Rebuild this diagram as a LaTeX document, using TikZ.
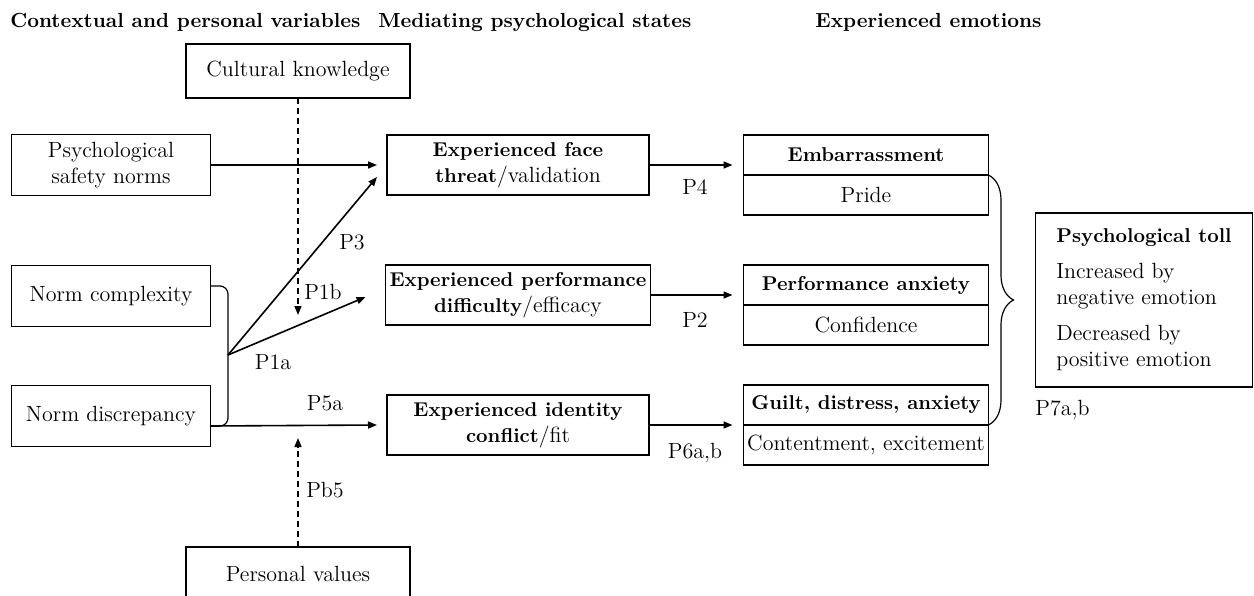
\documentclass[tikz,border=0pt]{standalone}
\usepackage{tikz}
\usetikzlibrary{arrows.meta,calc,positioning,decorations.pathreplacing}

\newcommand{\strong}[1]{{\fontsize{10}{13}\selectfont\bfseries #1}}

\tikzset{
  box/.style={draw, line width=0.6pt, align=center, inner sep=2pt, outer sep=0pt},
  leftbox/.style={box, minimum width=99.5pt, minimum height=30.5pt},
  midbox/.style={box, minimum width=131pt, minimum height=30pt},
  emobox/.style={box, minimum width=122.5pt, minimum height=20pt},
  topbox/.style={box, minimum width=112pt, minimum height=27pt},
  arr/.style={line width=0.8pt, -{Triangle[length=4.5pt,width=3.5pt]}},
  dasharr/.style={arr, dash pattern=on 3pt off 2pt},
  lab/.style={inner sep=1pt},
  head/.style={anchor=west, font=\fontsize{10.2}{13}\selectfont\bfseries, inner sep=0pt},
}

\begin{document}
\begin{tikzpicture}[x=0.5pt, y=-0.5pt, font=\fontsize{11}{13}\selectfont]
\useasboundingbox (0,0) rectangle (1254,595);

% column headings
\node[head] (h1) at (10,22) {Contextual and personal variables};
\node[head] (h2) at (378,22) {Mediating psychological states};
\node[head] (h3) at (815,22) {Experienced emotions};

% contextual and personal variables
\node[topbox] (ck) at (298,71) {Cultural knowledge};
\node[leftbox] (psn) at (111,165) {Psychological\\safety norms};
\node[leftbox] (nc) at (111,296) {Norm complexity};
\node[leftbox] (nd) at (111,416) {Norm discrepancy};
\node[topbox] (pv) at (298,574) {Personal values};

% mediating states
\node[midbox] (face) at (518,165) {\strong{Experienced face}\\\strong{threat}/validation};
\node[midbox] (perf) at (518,295) {\strong{Experienced performance}\\\strong{difficulty}/efficacy};
\node[midbox] (id) at (518,425) {\strong{Experienced identity}\\\strong{conflict}/fit};

% emotions
\node[emobox] (emb) at (866,155) {\strong{Embarrassment}};
\node[emobox, below=0pt of emb] (pride) {Pride};
\node[emobox] (panx) at (866,285) {\strong{Performance anxiety}};
\node[emobox, below=0pt of panx] (conf) {Confidence};
\node[emobox] (guilt) at (866,405) {\strong{Guilt, distress, anxiety}};
\node[emobox, below=0pt of guilt] (cont) {Contentment, excitement};

% outcome
\node[box, align=left, minimum width=108.5pt, minimum height=87pt] (toll) at (1144,300)
  {\strong{Psychological toll}\\[5pt]Increased by\\negative emotion\\[5pt]Decreased by\\positive emotion};

\coordinate (join) at (228,355);
\coordinate (cktip) at (298,315);
\coordinate (pvtip) at (298,438);

\draw[line width=0.6pt, rounded corners=4pt] ([yshift=5pt]nc.east) -| (join) |- ([yshift=-5pt]nd.east);
\draw[arr] (psn.east) -- ([xshift=-5pt]face.west);
\draw[arr] (join) -- ($(face.west)+(-10,12)$);
\draw[arr] (join) -- ($(perf.west)+(-20,2)$);
\draw[arr] ([yshift=-5pt]nd.east) -- ([xshift=-5pt]id.west);
\draw[dasharr] (ck.south) -- (cktip);
\draw[dasharr] (pv.north) -- (pvtip);

\draw[arr] (face.east) -- ([xshift=-5.5pt]face.east -| emb.west);
\draw[arr] (perf.east) -- ([xshift=-5.5pt]perf.east -| panx.west);
\draw[arr] (id.east) -- ([xshift=-5.5pt]id.east -| guilt.west);

\draw[line width=0.6pt, decorate, decoration={brace, amplitude=12.5pt}] (emb.south east) -- (guilt.south east);

% path labels
\node[lab] (l3) at (352,242) {P3};
\node[lab] (l1b) at (323,292) {P1b};
\node[lab] (l1a) at (273,362) {P1a};
\node[lab] (l5a) at (325,403) {P5a};
\node[lab] (lb5) at (325,490) {Pb5};
\node[lab] (l4) at (695,187) {P4};
\node[lab] (l2) at (695,320) {P2};
\node[lab] (l6) at (695,453) {P6a,b};
\node[lab, anchor=west] (l7) at (1033,410) {P7a,b};
\end{tikzpicture}
\end{document}
